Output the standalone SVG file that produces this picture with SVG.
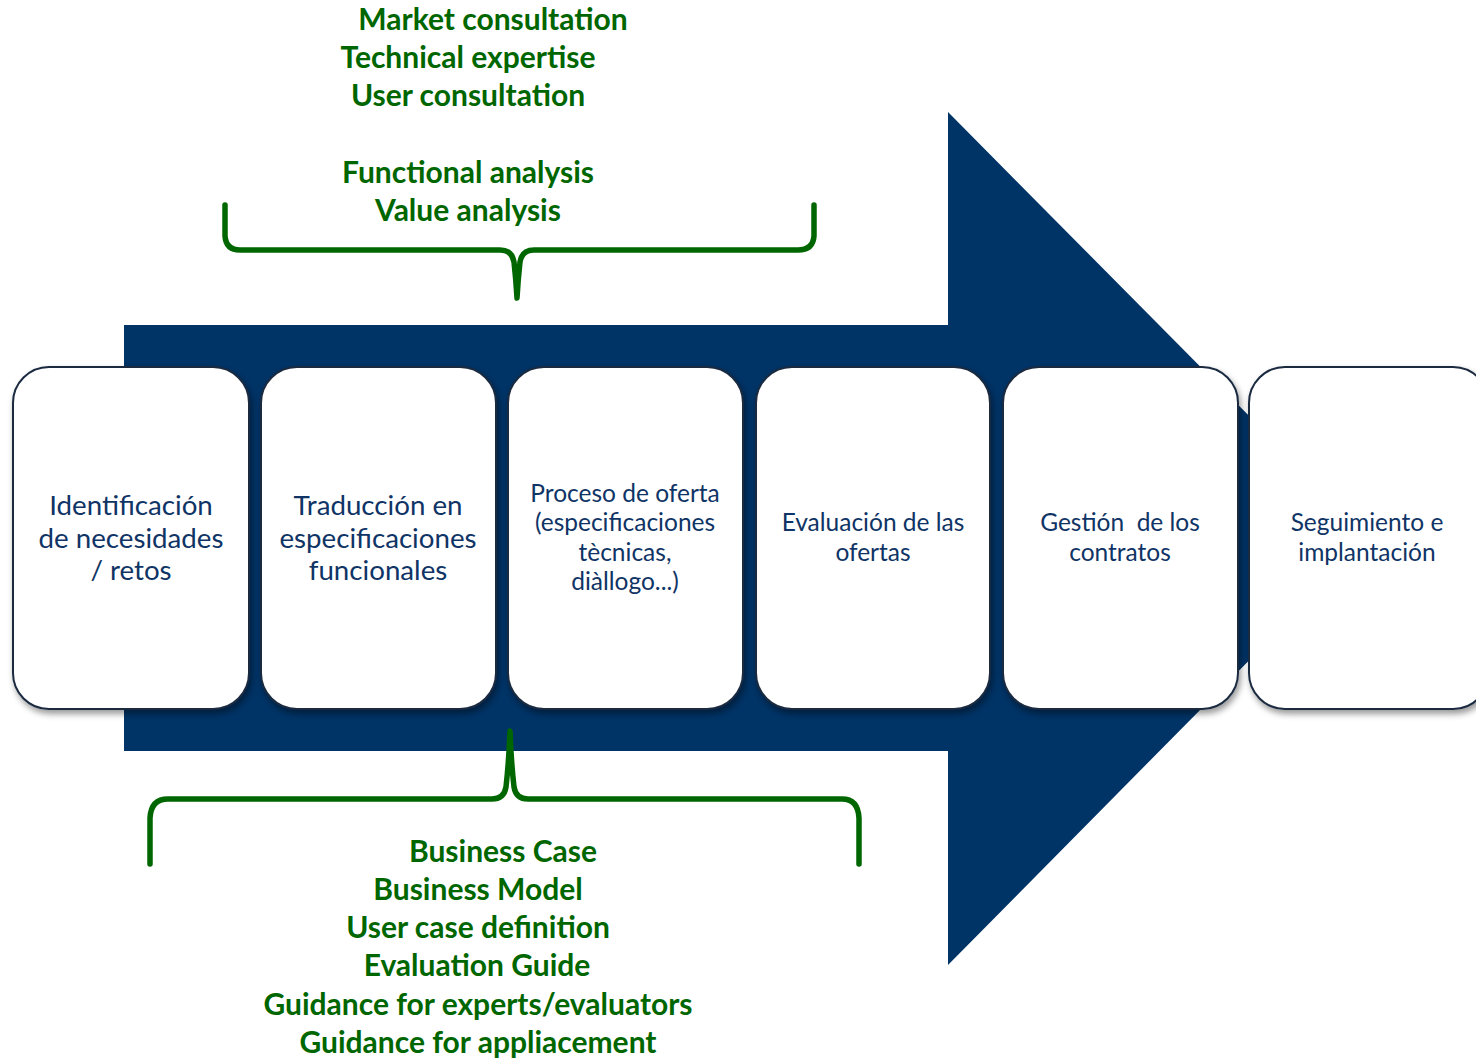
<svg xmlns="http://www.w3.org/2000/svg" width="1476" height="1059" viewBox="0 0 1476 1059">
<defs>
<style>
.g{font-family:Lato,"Open Sans","Liberation Sans",sans-serif;font-weight:bold;font-size:30px;fill:#006600;text-anchor:middle}
.b{font-family:Lato,"Open Sans","Liberation Sans",sans-serif;font-size:27.7px;fill:#0F3465;text-anchor:middle}
.s{font-size:24.5px}
.box{fill:#ffffff;stroke:#1A2A40;stroke-width:2}
.brace{fill:none;stroke:#006600;stroke-width:5.5;stroke-linecap:round;stroke-linejoin:round}
</style>
<filter id="sh" x="-10%" y="-10%" width="125%" height="125%">
<feDropShadow dx="2" dy="4" stdDeviation="3" flood-color="#000" flood-opacity="0.4"/>
</filter>
</defs>
<rect width="1476" height="1059" fill="#ffffff"/>
<g id="arrow">
<path d="M124,325 H948 V112 L1370,538 L948,965 V751 H124 Z" fill="#003366"/>
</g>
<g id="connectors">
<path class="brace" d="M225,205 V236 Q226,250 240,250 H500 Q512,250 514,262 Q516,280 517,298 Q518,280 520,262 Q522,250 534,250 H798 Q813,250 814,236 V205"/>
<path class="brace" d="M150,864 V818 Q151,799 168,799 H492 Q504,799 506,787 Q509,760 510,731 Q511,760 514,787 Q516,799 528,799 H842 Q858,799 859,818 V864"/>
</g>
<g id="n1"><rect class="box" filter="url(#sh)" x="13" y="367" width="236" height="342" rx="36"/>
<text class="b"><tspan x="131" y="515">Identificación</tspan><tspan x="131" y="548">de necesidades</tspan><tspan x="131" y="580">/ retos</tspan></text></g>
<g id="n2"><rect class="box" filter="url(#sh)" x="261" y="367" width="235" height="342" rx="36"/>
<text class="b"><tspan x="378" y="515">Traducción en</tspan><tspan x="378" y="548">especificaciones</tspan><tspan x="378" y="580">funcionales</tspan></text></g>
<g id="n3"><rect class="box" filter="url(#sh)" x="508" y="367" width="235" height="342" rx="36"/>
<text class="b s"><tspan x="625" y="502">Proceso de oferta</tspan><tspan x="625" y="531">(especificaciones</tspan><tspan x="625" y="561">tècnicas,</tspan><tspan x="625" y="590">diàllogo...)</tspan></text></g>
<g id="n4"><rect class="box" filter="url(#sh)" x="756" y="367" width="234" height="342" rx="36"/>
<text class="b s"><tspan x="873" y="531">Evaluación de las</tspan><tspan x="873" y="561">ofertas</tspan></text></g>
<g id="n5"><rect class="box" filter="url(#sh)" x="1003" y="367" width="235" height="342" rx="36"/>
<text class="b s" xml:space="preserve"><tspan x="1120" y="531">Gestión  de los</tspan><tspan x="1120" y="561">contratos</tspan></text></g>
<g id="n6"><rect class="box" filter="url(#sh)" x="1249" y="367" width="240" height="342" rx="36"/>
<text class="b s"><tspan x="1367" y="531">Seguimiento e</tspan><tspan x="1367" y="561">implantación</tspan></text></g>
<g id="top-labels">
<text class="g"><tspan x="493" y="30">Market consultation</tspan><tspan x="468" y="68">Technical expertise</tspan><tspan x="468" y="106">User consultation</tspan><tspan x="468" y="183">Functional analysis</tspan><tspan x="468" y="221">Value analysis</tspan></text>
</g>
<g id="bottom-labels">
<text class="g"><tspan x="503" y="862">Business Case</tspan><tspan x="478" y="900">Business Model</tspan><tspan x="478" y="938">User case definition</tspan><tspan x="477" y="976">Evaluation Guide</tspan><tspan x="478" y="1015">Guidance for experts/evaluators</tspan><tspan x="478" y="1053">Guidance for appliacement</tspan></text>
</g>
</svg>
